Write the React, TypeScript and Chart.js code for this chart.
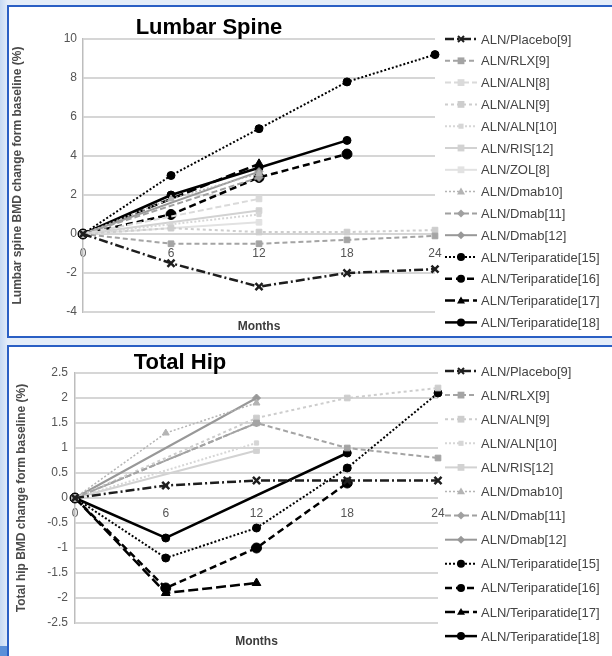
import React, { useEffect, useRef } from 'react';
import { Chart, registerables } from 'chart.js';

Chart.register(...registerables);

// ---------- categories / ticks ----------
const months = ['0', '6', '12', '18', '24'];

// ---------- Lumbar spine series (% change from baseline) ----------
const lumbarNames = [
  'ALN/Placebo[9]', 'ALN/RLX[9]', 'ALN/ALN[8]', 'ALN/ALN[9]', 'ALN/ALN[10]', 'ALN/RIS[12]', 'ALN/ZOL[8]',
  'ALN/Dmab10]', 'ALN/Dmab[11]', 'ALN/Dmab[12]',
  'ALN/Teriparatide[15]', 'ALN/Teriparatide[16]', 'ALN/Teriparatide[17]', 'ALN/Teriparatide[18]',
];
const lsPlacebo9 = [0, -1.5, -2.7, -2.0, -1.8];
const lsRlx9 = [0, -0.5, -0.5, -0.3, -0.1];
const lsAln8 = [0, null, 1.8, null, null];
const lsAln9 = [0, 0.3, 0.1, 0.1, 0.2];
const lsAln10 = [0, 0.5, 1.0, null, null];
const lsRis12 = [0, null, 1.2, null, null];
const lsZol8 = [0, null, 0.6, null, null];
const lsDmab10 = [0, 1.8, 3.1, null, null];
const lsDmab11 = [0, null, 2.9, null, null];
const lsDmab12 = [0, null, 3.2, null, null];
const lsTeri15 = [0, 3.0, 5.4, 7.8, 9.2];
const lsTeri16 = [0, 1.0, 2.9, 4.1, null];
const lsTeri17 = [0, null, 3.6, null, null];
const lsTeri18 = [0, 2.0, 3.4, 4.8, null];
const lumbarValues = [
  lsPlacebo9, lsRlx9, lsAln8, lsAln9, lsAln10, lsRis12, lsZol8,
  lsDmab10, lsDmab11, lsDmab12, lsTeri15, lsTeri16, lsTeri17, lsTeri18,
];
const lumbarTicks = { min: -4, max: 10, step: 2 };

// ---------- Total hip series ----------
const hipNames = [
  'ALN/Placebo[9]', 'ALN/RLX[9]', 'ALN/ALN[9]', 'ALN/ALN[10]', 'ALN/RIS[12]',
  'ALN/Dmab10]', 'ALN/Dmab[11]', 'ALN/Dmab[12]',
  'ALN/Teriparatide[15]', 'ALN/Teriparatide[16]', 'ALN/Teriparatide[17]', 'ALN/Teriparatide[18]',
];
const thPlacebo9 = [0, 0.25, 0.35, 0.35, 0.35];
const thRlx9 = [0, null, 1.5, 1.0, 0.8];
const thAln9 = [0, null, 1.6, 2.0, 2.2];
const thAln10 = [0, null, 1.1, null, null];
const thRis12 = [0, null, 0.95, null, null];
const thDmab10 = [0, 1.3, 1.9, null, null];
const thDmab11 = [0, null, 1.5, null, null];
const thDmab12 = [0, null, 2.0, null, null];
const thTeri15 = [0, -1.2, -0.6, 0.6, 2.1];
const thTeri16 = [0, -1.8, -1.0, 0.3, null];
const thTeri17 = [0, -1.9, -1.7, null, null];
const thTeri18 = [0, -0.8, null, 0.9, null];
const hipValues = [
  thPlacebo9, thRlx9, thAln9, thAln10, thRis12,
  thDmab10, thDmab11, thDmab12, thTeri15, thTeri16, thTeri17, thTeri18,
];
const hipTicks = { min: -2.5, max: 2.5, step: 0.5 };

// ---------- styles ----------
type Sty = { color: string; dash: number[]; width: number; marker: string; radius: number };
const STY: Record<string, Sty> = {
  'ALN/Placebo[9]': { color: '#1e1e1e', dash: [9, 3, 2, 3], width: 2.5, marker: 'crossRot', radius: 5 },
  'ALN/RLX[9]': { color: '#a4a4a4', dash: [5, 3], width: 2, marker: 'rect', radius: 4 },
  'ALN/ALN[8]': { color: '#dadada', dash: [6, 3], width: 2, marker: 'rect', radius: 4 },
  'ALN/ALN[9]': { color: '#cdcdcd', dash: [3, 3], width: 2, marker: 'rect', radius: 4 },
  'ALN/ALN[10]': { color: '#d6d6d6', dash: [2, 2], width: 2, marker: 'rect', radius: 3 },
  'ALN/RIS[12]': { color: '#d2d2d2', dash: [], width: 2, marker: 'rect', radius: 4 },
  'ALN/ZOL[8]': { color: '#e2e2e2', dash: [], width: 2, marker: 'rect', radius: 4 },
  'ALN/Dmab10]': { color: '#b4b4b4', dash: [2, 2], width: 1.5, marker: 'triangle', radius: 4 },
  'ALN/Dmab[11]': { color: '#a0a0a0', dash: [6, 3], width: 2, marker: 'rectRot', radius: 4 },
  'ALN/Dmab[12]': { color: '#989898', dash: [], width: 2, marker: 'rectRot', radius: 4 },
  'ALN/Teriparatide[15]': { color: '#000000', dash: [2, 2], width: 2, marker: 'circle', radius: 4 },
  'ALN/Teriparatide[16]': { color: '#000000', dash: [7, 4], width: 2.5, marker: 'circle', radius: 5 },
  'ALN/Teriparatide[17]': { color: '#000000', dash: [10, 4], width: 2.5, marker: 'triangle', radius: 5 },
  'ALN/Teriparatide[18]': { color: '#000000', dash: [], width: 2.5, marker: 'circle', radius: 4 },
};

const FONT = '"Liberation Sans", Arial, sans-serif';

function drawMarker(ctx: CanvasRenderingContext2D, kind: string, x: number, y: number, r: number, color: string) {
  ctx.save();
  ctx.setLineDash([]);
  ctx.fillStyle = color;
  ctx.strokeStyle = color;
  ctx.lineWidth = 2;
  ctx.beginPath();
  if (kind === 'circle') {
    ctx.arc(x, y, r, 0, Math.PI * 2);
    ctx.fill();
  } else if (kind === 'rect') {
    const s = r * 0.85;
    ctx.rect(x - s, y - s, 2 * s, 2 * s);
    ctx.fill();
  } else if (kind === 'rectRot') {
    ctx.moveTo(x, y - r);
    ctx.lineTo(x + r, y);
    ctx.lineTo(x, y + r);
    ctx.lineTo(x - r, y);
    ctx.closePath();
    ctx.fill();
  } else if (kind === 'triangle') {
    ctx.moveTo(x, y - r);
    ctx.lineTo(x + r, y + r * 0.7);
    ctx.lineTo(x - r, y + r * 0.7);
    ctx.closePath();
    ctx.fill();
  } else if (kind === 'crossRot') {
    const s = r * 0.75;
    ctx.moveTo(x - s, y - s);
    ctx.lineTo(x + s, y + s);
    ctx.moveTo(x + s, y - s);
    ctx.lineTo(x - s, y + s);
    ctx.stroke();
  }
  ctx.restore();
}

const overlayPlugin = {
  id: 'overlay',
  afterDraw(chart: any, _args: any, opts: any) {
    const ctx: CanvasRenderingContext2D = chart.ctx;
    ctx.save();
    ctx.font = `bold 22px ${FONT}`;
    ctx.fillStyle = '#000';
    ctx.textAlign = 'center';
    ctx.textBaseline = 'middle';
    ctx.fillText(opts.title, opts.titleX, opts.titleY);

    chart.data.datasets.forEach((ds: any, i: number) => {
      const s = STY[ds.label];
      const y = opts.legendTop + i * opts.legendStep;
      const x0 = opts.legendX;
      ctx.save();
      ctx.strokeStyle = s.color;
      ctx.lineWidth = s.width;
      ctx.setLineDash(s.dash);
      ctx.beginPath();
      ctx.moveTo(x0, y);
      ctx.lineTo(x0 + 32, y);
      ctx.stroke();
      ctx.restore();
      drawMarker(ctx, s.marker, x0 + 16, y, Math.min(s.radius, 4), s.color);
      ctx.fillStyle = '#444';
      ctx.font = `13px ${FONT}`;
      ctx.textAlign = 'left';
      ctx.textBaseline = 'middle';
      ctx.fillText(ds.label, x0 + 36, y + 1);
    });
    ctx.restore();
  },
};

const fmtTick = (v: any) => String(Number(Number(v).toFixed(2)));

type PanelProps = {
  width: number;
  height: number;
  names: string[];
  values: (number | null)[][];
  ticks: { min: number; max: number; step: number };
  yTitle: string;
  title: string;
  titleX: number;
  titleY: number;
  area: { left: number; top: number; right: number; bottom: number };
  xLabelPad: number;
  yLabelPad: number;
  yTitlePad: number;
  monthsPad: number;
  legendX: number;
  legendTop: number;
  legendStep: number;
};

function Panel(p: PanelProps) {
  const ref = useRef<HTMLCanvasElement | null>(null);
  useEffect(() => {
    if (!ref.current) return;
    const datasets = p.names.map((name, i) => {
      const s = STY[name];
      return {
        label: name,
        data: p.values[i],
        borderColor: s.color,
        backgroundColor: s.color,
        borderWidth: s.width,
        borderDash: s.dash,
        pointStyle: s.marker,
        pointRadius: s.radius,
        pointBorderWidth: s.marker === 'crossRot' ? 2.5 : 1,
        pointBackgroundColor: s.color,
        pointBorderColor: s.color,
        spanGaps: true,
        tension: 0,
        fill: false,
        xAxisID: 'x',
        yAxisID: 'y',
      };
    });
    const chart = new Chart(ref.current, {
      type: 'line',
      data: { labels: months, datasets },
      plugins: [overlayPlugin],
      options: {
        responsive: false,
        animation: false,
        layout: {
          padding: { left: 0, top: p.area.top, right: p.width - p.area.right, bottom: 0 },
        },
        plugins: {
          legend: { display: false },
          tooltip: { enabled: false },
          overlay: {
            title: p.title,
            titleX: p.titleX,
            titleY: p.titleY,
            legendX: p.legendX,
            legendTop: p.legendTop,
            legendStep: p.legendStep,
          },
        } as any,
        scales: {
          x: {
            type: 'category',
            position: { y: 0 } as any,
            offset: false,
            grid: { display: false, drawTicks: false },
            border: { display: false },
            ticks: { color: '#555', font: { size: 12, family: FONT }, padding: p.xLabelPad, maxRotation: 0 },
          },
          x2: {
            type: 'category',
            position: 'bottom',
            grid: { display: false, drawTicks: false },
            border: { display: false },
            ticks: { display: false },
            title: {
              display: true,
              text: 'Months',
              color: '#3c3c3c',
              font: { size: 12, weight: 'bold', family: FONT },
              padding: { top: 0, bottom: p.monthsPad },
            },
            afterFit: (scale: any) => {
              scale.height = p.height - p.area.bottom;
            },
          },
          y: {
            type: 'linear',
            position: 'left',
            min: p.ticks.min,
            max: p.ticks.max,
            ticks: {
              stepSize: p.ticks.step,
              color: '#555',
              font: { size: 12, family: FONT },
              padding: p.yLabelPad,
              callback: fmtTick,
            },
            grid: { color: '#d6d6d6', lineWidth: 2, drawTicks: false },
            border: { display: true, color: '#bdbdbd', width: 1.5 },
            title: {
              display: true,
              text: p.yTitle,
              color: '#4a4a4a',
              font: { size: 12, weight: 'bold', family: FONT },
              padding: { top: p.yTitlePad, bottom: 0 },
            },
            afterFit: (scale: any) => {
              scale.width = p.area.left;
            },
          },
        } as any,
      },
    } as any);
    return () => chart.destroy();
  }, []);
  return <canvas ref={ref} width={p.width} height={p.height} style={{ display: 'block', width: p.width, height: p.height }} />;
}

export default function App() {
  const border = '2px solid #2a5fc4';
  return (
    <div
      style={{
        position: 'absolute',
        left: 0,
        top: 0,
        width: 612,
        height: 656,
        overflow: 'hidden',
        background: 'linear-gradient(to right, #c6d9f3 0px, #e4edf9 8px, #e4edf9 100%)',
      }}
    >
      <div style={{ position: 'absolute', left: 0, bottom: 0, width: 8, height: 10, background: '#5b8fd8' }} />
      <div
        style={{
          position: 'absolute',
          left: 7,
          top: 5,
          width: 640,
          height: 333,
          boxSizing: 'border-box',
          border,
          background: '#fff',
        }}
      >
        <div style={{ position: 'absolute', left: 0, top: 0 }}>
          <Panel
            width={603}
            height={329}
            names={lumbarNames}
            values={lumbarValues}
            ticks={lumbarTicks}
            yTitle="Lumbar spine BMD change form baseline (%)"
            title="Lumbar Spine"
            titleX={200}
            titleY={21}
            area={{ left: 74, top: 32, right: 426, bottom: 305 }}
            xLabelPad={12}
            yLabelPad={6}
            yTitlePad={1}
            monthsPad={2}
            legendX={436}
            legendTop={32}
            legendStep={21.8}
          />
        </div>
      </div>
      <div
        style={{
          position: 'absolute',
          left: 7,
          top: 345,
          width: 640,
          height: 330,
          boxSizing: 'border-box',
          border,
          background: '#fff',
        }}
      >
        <div style={{ position: 'absolute', left: 0, top: 0 }}>
          <Panel
            width={603}
            height={309}
            names={hipNames}
            values={hipValues}
            ticks={hipTicks}
            yTitle="Total hip BMD change form baseline (%)"
            title="Total Hip"
            titleX={171}
            titleY={16}
            area={{ left: 66, top: 26, right: 429, bottom: 276 }}
            xLabelPad={8}
            yLabelPad={7}
            yTitlePad={5}
            monthsPad={7}
            legendX={436}
            legendTop={24}
            legendStep={24.1}
          />
        </div>
      </div>
    </div>
  );
}
